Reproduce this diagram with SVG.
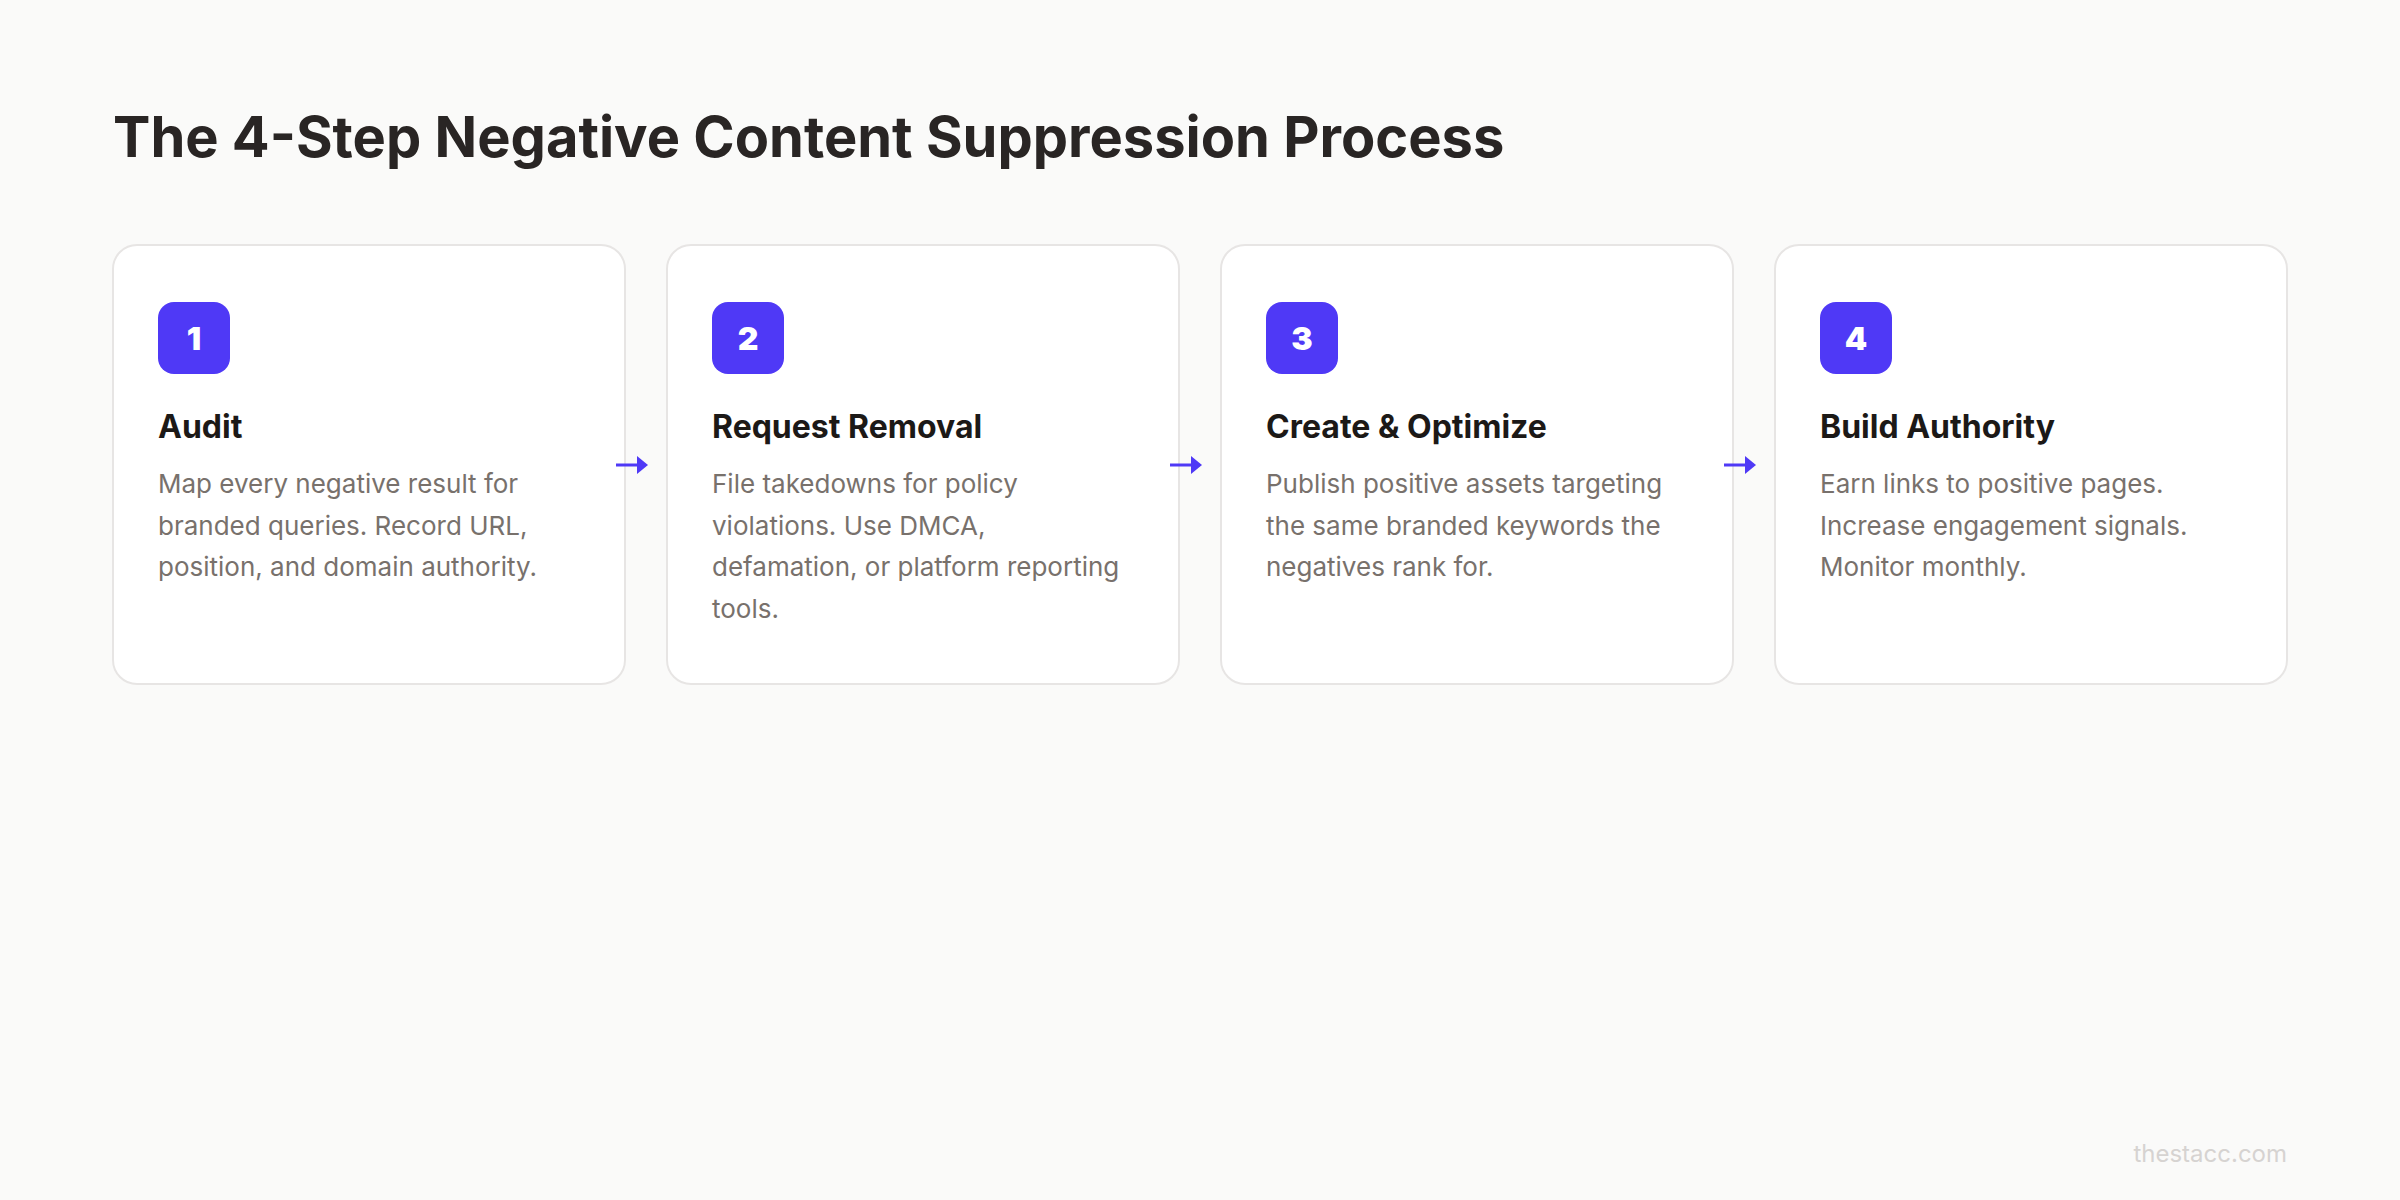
<svg xmlns="http://www.w3.org/2000/svg" width="2400" height="1200" viewBox="0 0 2400 1200">
  <style>
    .card { fill: #ffffff; stroke: #e7e5e4; stroke-width: 2; }
    .badge { fill: #4f39f6; }
    .num { font-family: Inter, "Noto Sans", sans-serif; font-weight: 900; font-size: 32px; fill: #ffffff; text-anchor: middle; }
    .ttl { font-family: Inter, "Noto Sans", sans-serif; font-weight: 700; font-size: 32px; fill: #1c1917; }
    .desc { font-family: Inter, "Noto Sans", sans-serif; font-weight: 400; font-size: 26px; fill: #78716c; }
    .conn line { stroke: #4f39f6; stroke-width: 3; }
    .conn polygon { fill: #4f39f6; }
  </style>
  <rect x="0" y="0" width="2400" height="1200" fill="#fafaf9"/>
  <text x="113" y="157" font-family="Inter, 'Noto Sans', sans-serif" font-weight="700" font-size="56" fill="#292524">The 4-Step Negative Content Suppression Process</text>

  <g id="step1">
    <rect class="card" x="113" y="245" width="512" height="439" rx="24"/>
    <rect class="badge" x="158" y="302" width="72" height="72" rx="16"/>
    <text class="num" x="194" y="350">1</text>
    <text class="ttl" x="158" y="438">Audit</text>
    <text class="desc" x="158" y="493">Map every negative result for</text>
    <text class="desc" x="158" y="534.6">branded queries. Record URL,</text>
    <text class="desc" x="158" y="576.2">position, and domain authority.</text>
  </g>

  <g id="step2">
    <rect class="card" x="667" y="245" width="512" height="439" rx="24"/>
    <rect class="badge" x="712" y="302" width="72" height="72" rx="16"/>
    <text class="num" x="748" y="350">2</text>
    <text class="ttl" x="712" y="438">Request Removal</text>
    <text class="desc" x="712" y="493">File takedowns for policy</text>
    <text class="desc" x="712" y="534.6">violations. Use DMCA,</text>
    <text class="desc" x="712" y="576.2">defamation, or platform reporting</text>
    <text class="desc" x="712" y="617.8">tools.</text>
  </g>

  <g id="step3">
    <rect class="card" x="1221" y="245" width="512" height="439" rx="24"/>
    <rect class="badge" x="1266" y="302" width="72" height="72" rx="16"/>
    <text class="num" x="1302" y="350">3</text>
    <text class="ttl" x="1266" y="438">Create &amp; Optimize</text>
    <text class="desc" x="1266" y="493">Publish positive assets targeting</text>
    <text class="desc" x="1266" y="534.6">the same branded keywords the</text>
    <text class="desc" x="1266" y="576.2">negatives rank for.</text>
  </g>

  <g id="step4">
    <rect class="card" x="1775" y="245" width="512" height="439" rx="24"/>
    <rect class="badge" x="1820" y="302" width="72" height="72" rx="16"/>
    <text class="num" x="1856" y="350">4</text>
    <text class="ttl" x="1820" y="438">Build Authority</text>
    <text class="desc" x="1820" y="493">Earn links to positive pages.</text>
    <text class="desc" x="1820" y="534.6">Increase engagement signals.</text>
    <text class="desc" x="1820" y="576.2">Monitor monthly.</text>
  </g>

  <g id="connectors" class="conn">
    <line x1="616" y1="465" x2="640" y2="465"/>
    <polygon points="637,456 648,465 637,474"/>
    <line x1="1170" y1="465" x2="1194" y2="465"/>
    <polygon points="1191,456 1202,465 1191,474"/>
    <line x1="1724" y1="465" x2="1748" y2="465"/>
    <polygon points="1745,456 1756,465 1745,474"/>
  </g>

  <text x="2287" y="1162" text-anchor="end" font-family="Inter, 'Noto Sans', sans-serif" font-size="24" fill="#d6d3d1">thestacc.com</text>
</svg>
